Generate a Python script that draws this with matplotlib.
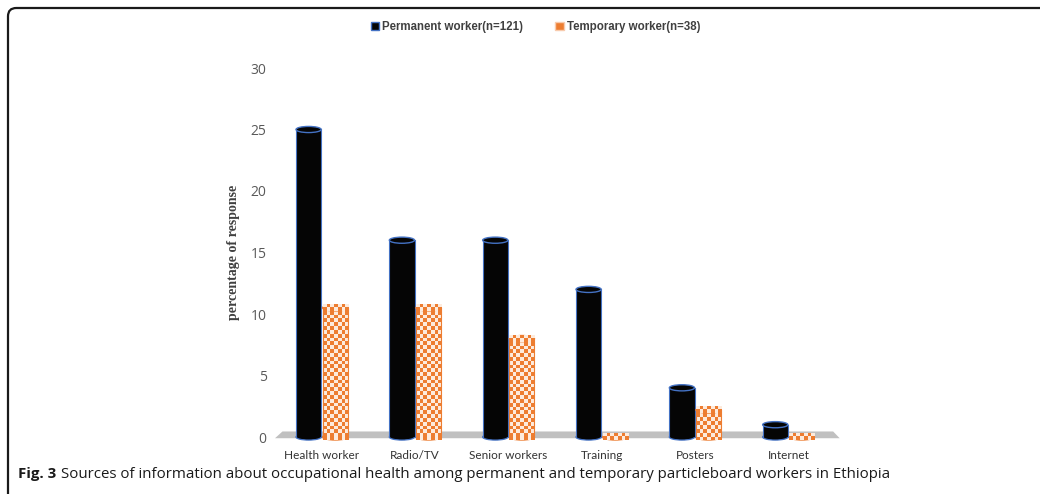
import numpy as np
import matplotlib
matplotlib.use("Agg")
import matplotlib.pyplot as plt
from matplotlib.patches import Ellipse, Rectangle, Patch, FancyBboxPatch, Polygon
from matplotlib.colors import ListedColormap

# data
categories = ["Health worker", "Radio/TV", "Senior workers", "Training", "Posters", "Internet"]
permanent = [25, 16, 16, 12, 4, 1]
temporary = [10.5, 10.5, 8, 0, 2.2, 0]
legend_labels = ["Permanent worker(n=121)", "Temporary worker(n=38)"]
y_ticks = [0, 5, 10, 15, 20, 25, 30]

BLACK = "#050505"
BLUE = "#4472C4"
ORANGE = "#ED7D31"
checker_cmap = ListedColormap(["#FDEBDD", ORANGE])

fig = plt.figure(figsize=(10.4, 4.94), dpi=100)
ax = fig.add_axes([275 / 1040, 1 - 437 / 494, 560 / 1040, 369 / 494])
ax.set_xlim(-0.5, 5.5)
ax.set_ylim(0, 30)

bw = 0.27
eh = 0.5  # ellipse height in data units
x = np.arange(len(categories))

# pixels per data unit, used only for the size of checker cells
px_x = 560 / 6
px_y = 369 / 30
cell = 3.8

# grey floor
floor = Polygon([(-0.42, 0.45), (5.48, 0.45), (5.55, -0.1), (-0.5, -0.1)],
                closed=True, facecolor="#C0C0C0", edgecolor="none", zorder=1, clip_on=False)
ax.add_patch(floor)


def checker(ax, patch, x0, x1, y0, y1):
    ncols = max(2, int(round((x1 - x0) * px_x / cell)))
    nrows = max(2, int(round((y1 - y0) * px_y / cell)))
    arr = np.indices((nrows, ncols)).sum(axis=0) % 2
    im = ax.imshow(arr, cmap=checker_cmap, extent=(x0, x1, y0, y1), aspect="auto",
                   interpolation="nearest", zorder=patch.get_zorder(), clip_on=False)
    im.set_clip_path(patch)


for i in range(len(categories)):
    # permanent: black cylinder
    xc = x[i] - bw / 2 - 0.005
    h = permanent[i]
    ax.add_patch(Ellipse((xc, 0), bw, eh, facecolor=BLACK, edgecolor=BLUE, lw=0.9, zorder=2, clip_on=False))
    ax.add_patch(Rectangle((xc - bw / 2, 0), bw, h, facecolor=BLACK, edgecolor="none", zorder=3, clip_on=False))
    ax.plot([xc - bw / 2, xc - bw / 2], [0, h], color=BLUE, lw=0.8, zorder=3.5, clip_on=False)
    ax.plot([xc + bw / 2, xc + bw / 2], [0, h], color=BLUE, lw=0.8, zorder=3.5, clip_on=False)
    ax.add_patch(Ellipse((xc, h), bw, eh, facecolor=BLACK, edgecolor=BLUE, lw=1.0, zorder=4, clip_on=False))

    # temporary: orange checkered cylinder
    xo = x[i] + bw / 2 + 0.01
    t = temporary[i]
    bot = Ellipse((xo, 0), bw, eh, facecolor="none", edgecolor=ORANGE, lw=0.9, zorder=2, clip_on=False)
    ax.add_patch(bot)
    checker(ax, bot, xo - bw / 2, xo + bw / 2, -eh / 2, eh / 2)
    if t > 0:
        rect = Rectangle((xo - bw / 2, 0), bw, t, facecolor="none", edgecolor="none", zorder=3, clip_on=False)
        ax.add_patch(rect)
        checker(ax, rect, xo - bw / 2, xo + bw / 2, 0, t)
        ax.plot([xo - bw / 2, xo - bw / 2], [0, t], color=ORANGE, lw=0.8, zorder=3.5, clip_on=False)
        ax.plot([xo + bw / 2, xo + bw / 2], [0, t], color=ORANGE, lw=0.8, zorder=3.5, clip_on=False)
        top = Ellipse((xo, t), bw, eh, facecolor="none", edgecolor=ORANGE, lw=1.0, zorder=4, clip_on=False)
        ax.add_patch(top)
        checker(ax, top, xo - bw / 2, xo + bw / 2, t - eh / 2, t + eh / 2)

for s in ax.spines.values():
    s.set_visible(False)
ax.set_yticks(y_ticks)
ax.set_yticklabels([str(v) for v in y_ticks], color="#595959", fontsize=10, family="Open Sans")
ax.set_xticks(x)
ax.set_xticklabels(categories, color="#333333", fontsize=8.5, family="Lato")
ax.tick_params(axis="both", length=0)
ax.tick_params(axis="y", pad=6)
ax.tick_params(axis="x", pad=9)
ax.set_ylabel("percentage of response", family=["Liberation Serif", "DejaVu Serif"],
              fontweight="bold", fontsize=10, color="#404040", labelpad=8)

handles = [Patch(facecolor=BLACK, edgecolor=BLUE, lw=1.0),
           Patch(facecolor=ORANGE, edgecolor="#F8CBAD", lw=1.0)]
fig.legend(handles, legend_labels, loc="center", bbox_to_anchor=(0.515, 1 - 27 / 494), ncol=2,
           frameon=False, prop={"family": "Liberation Sans", "weight": "bold", "size": 8.3},
           labelcolor="#404040", handlelength=0.7, handleheight=0.7, handletextpad=0.3,
           columnspacing=2.8)

# frame around the figure
frame = FancyBboxPatch((8 / 1040, -0.2), 1.2, 1.2 - 8 / 494,
                       boxstyle="round,pad=0,rounding_size=0.008", mutation_aspect=1040 / 494,
                       transform=fig.transFigure, facecolor="none", edgecolor="#1A1A1A", lw=1.6)
fig.patches.append(frame)

# caption
cap1 = fig.text(18 / 1040, 1 - 474 / 494, "Fig. 3", fontsize=10.8, fontweight="bold",
                family="Open Sans", va="center", color="#1A1A1A")
fig.canvas.draw()
bb = cap1.get_window_extent()
fig.text((bb.x1 + 5) / 1040, 1 - 474 / 494,
         "Sources of information about occupational health among permanent and temporary particleboard workers in Ethiopia",
         fontsize=10.8, family="Open Sans", va="center", color="#1A1A1A")

fig.savefig("out.png", dpi=100)
